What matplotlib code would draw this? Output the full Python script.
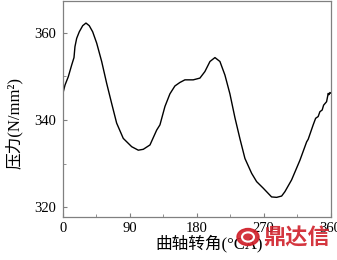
import numpy as np
import matplotlib
matplotlib.use("Agg")
import matplotlib.pyplot as plt
from matplotlib.ticker import MultipleLocator
from matplotlib.patches import Circle

# crank angle (deg) and pressure (N/mm^2)
angle = [0, 3.1, 7.5, 12.1, 14.2, 15.2, 16.5, 18.8, 22.3, 26.9, 31.3, 35.7,
         40.3, 45.7, 52.4, 59.1, 65.8, 72.5, 81.4, 92.7, 101.6, 108.3,
         117.3, 126.3, 130.7, 137.4, 144.1, 150.8, 157.5, 164.2, 175.4,
         184.4, 191.1, 197.9, 204.6, 211.3, 218.0, 224.7, 231.5, 238.2,
         244.9, 253.9, 260.6, 269.5, 280.7, 287.5, 294.2, 298.6, 307.6,
         318.8, 327.8, 329.9, 336.6, 339.9, 343.3, 345.6, 348.7, 350.6,
         354.6, 356.8, 357.7, 359.1, 360]
pressure = [345.9, 348.0, 349.9, 352.6, 353.75, 354.3, 356.8, 358.7, 360.2,
            361.6, 362.2, 361.6, 360.2, 357.6, 353.4, 348.4, 343.8, 339.3,
            335.8, 333.9, 333.1, 333.3, 334.3, 337.7, 338.9, 343.1, 346.0,
            347.8, 348.6, 349.2, 349.2, 349.6, 351.1, 353.4, 354.3, 353.4,
            350.3, 346.0, 340.5, 335.7, 331.2, 327.8, 325.9, 324.4, 322.4,
            322.3, 322.6, 323.6, 326.3, 330.8, 335.0, 335.6, 338.9, 340.4,
            340.8, 341.9, 342.3, 343.4, 344.2, 346.1, 345.8, 346.3, 346.2]

xticks = [0, 90, 180, 270, 360]
yticks = [320, 340, 360]

plt.rcParams['font.family'] = ['Liberation Serif', 'Noto Sans CJK SC']

fig = plt.figure(figsize=(3.37, 2.6), dpi=100)
ax = fig.add_axes([0.186, 0.167, 0.795, 0.83])

ax.plot(angle, pressure, color="black", linewidth=1.0)

ax.set_xlim(0, 360)
ax.set_ylim(317.9, 367.3)
ax.set_xticks(xticks)
ax.set_yticks(yticks)
ax.xaxis.set_minor_locator(MultipleLocator(45))
ax.yaxis.set_minor_locator(MultipleLocator(10))
ax.tick_params(which="both", direction="in", color="#808080", labelsize=10.5)
ax.tick_params(which="major", length=3)
ax.tick_params(which="minor", length=2)
ax.tick_params(axis="y", pad=5)
ax.tick_params(axis="x", pad=4)
for s in ax.spines.values():
    s.set_color("#808080")
    s.set_linewidth(0.9)

ax.set_xlabel("曲轴转角(°CA)", fontsize=12)
ax.xaxis.set_label_coords(0.546, -0.085)
ax.set_ylabel("压力(N/mm²)", fontsize=12, va="center")
ax.yaxis.set_label_coords(-0.182, 0.434)

# watermark
fig.patches.append(Circle((248 / 337, (260 - 237) / 260), 11 / 337,
                          transform=fig.transFigure, color="#d0202a",
                          alpha=0.9, zorder=5))
fig.patches.append(Circle((248 / 337, (260 - 237) / 260), 6 / 337,
                          transform=fig.transFigure, fill=False,
                          edgecolor="white", linewidth=1.5, zorder=6))
fig.text(0.881, 0.085, "鼎达信", color="#d0202a", fontsize=16,
         fontweight="bold", ha="center", va="center", alpha=0.9,
         family=['Noto Sans CJK SC'], zorder=7)

fig.savefig("out.png", dpi=100)
